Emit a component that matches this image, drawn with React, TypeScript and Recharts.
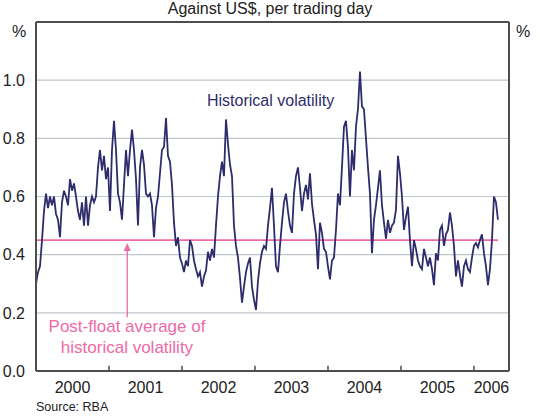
import {
  LineChart,
  Line,
  XAxis,
  YAxis,
  CartesianGrid,
  ReferenceLine,
  ReferenceDot,
} from "recharts";

// historical volatility, one reading about every 10 days from Jan 2000
const volatility = [
  0.30, 0.34, 0.36, 0.45, 0.55, 0.61, 0.56, 0.60, 0.57, 0.60,
  0.54, 0.52, 0.46, 0.58, 0.62, 0.60, 0.57, 0.66, 0.62, 0.645,
  0.60, 0.55, 0.52, 0.58, 0.50, 0.60, 0.50, 0.57, 0.60, 0.58,
  0.60, 0.70, 0.76, 0.69, 0.74, 0.66, 0.70, 0.55, 0.76, 0.86,
  0.76, 0.61, 0.58, 0.52, 0.64, 0.76, 0.67, 0.76, 0.83, 0.76,
  0.66, 0.50, 0.70, 0.76, 0.71, 0.61, 0.60, 0.61, 0.57, 0.46,
  0.56, 0.60, 0.68, 0.76, 0.77, 0.87, 0.74, 0.72, 0.64, 0.51,
  0.43, 0.46, 0.39, 0.37, 0.34, 0.38, 0.36, 0.45, 0.43, 0.38,
  0.35, 0.325, 0.34, 0.29, 0.325, 0.345, 0.41, 0.38, 0.42, 0.39,
  0.50, 0.60, 0.67, 0.72, 0.67, 0.865, 0.78, 0.71, 0.67, 0.50,
  0.43, 0.39, 0.32, 0.235, 0.29, 0.34, 0.37, 0.39, 0.29, 0.245,
  0.21, 0.31, 0.37, 0.41, 0.43, 0.42, 0.50, 0.56, 0.63, 0.50,
  0.36, 0.34, 0.43, 0.51, 0.58, 0.61, 0.55, 0.50, 0.475, 0.61,
  0.67, 0.70, 0.63, 0.55, 0.61, 0.64, 0.59, 0.68, 0.575, 0.52,
  0.47, 0.35, 0.51, 0.475, 0.42, 0.41, 0.36, 0.315, 0.38, 0.39,
  0.485, 0.61, 0.57, 0.70, 0.84, 0.86, 0.77, 0.60, 0.76, 0.69,
  0.84, 0.90, 1.03, 0.91, 0.90, 0.80, 0.70, 0.61, 0.405, 0.52,
  0.57, 0.63, 0.69, 0.57, 0.51, 0.455, 0.52, 0.475, 0.50, 0.51,
  0.555, 0.74, 0.68, 0.60, 0.485, 0.53, 0.565, 0.45, 0.36, 0.45,
  0.42, 0.38, 0.36, 0.35, 0.42, 0.39, 0.36, 0.39, 0.35, 0.295,
  0.405, 0.38, 0.485, 0.50, 0.43, 0.47, 0.485, 0.545, 0.50, 0.43,
  0.325, 0.38, 0.33, 0.29, 0.36, 0.38, 0.35, 0.34, 0.39, 0.43,
  0.44, 0.425, 0.45, 0.47, 0.405, 0.36, 0.295, 0.35, 0.45, 0.60,
  0.58, 0.52,
];

const START_YEAR = 2000;
const STEP_YEARS = 10 / 365;
const END_YEAR = 2006.48;
const POST_FLOAT_AVG = 0.45;

const yearTicks = [2001, 2002, 2003, 2004, 2005, 2006];
const yearLabels = [2000, 2001, 2002, 2003, 2004, 2005, 2006];
const yTicks = [0, 0.2, 0.4, 0.6, 0.8, 1.0];

const data = volatility.map((v, i) => ({ t: START_YEAR + i * STEP_YEARS, v }));
const lastT = data[data.length - 1].t;

// label sits in the middle of each year (last one only partly shown)
const labelPos = yearLabels.map((y) => (y + Math.min(y + 1, END_YEAR)) / 2);

const FONT = "'Liberation Sans', Arial, Helvetica, sans-serif";
const NAVY = "#2e2c6b";
const PINK = "#ee6aa7";
const AXIS = "#4d4d4d";

const Arrowhead = ({ cx, cy }: any) => (
  <path d={`M${cx},${cy - 3} L${cx - 3.5},${cy + 5} L${cx + 3.5},${cy + 5} Z`} fill={PINK} />
);

export default function App() {
  const tickStyle = { fontSize: 16, fill: "#222", fontFamily: FONT };
  return (
    <div style={{ position: "absolute", left: 0, top: 0, width: 540, height: 417, background: "#fff", fontFamily: FONT }}>
      <div style={{ position: "absolute", top: 0, width: 540, textAlign: "center", fontSize: 16, color: "#222" }}>
        Against US$, per trading day
      </div>
      <div style={{ position: "absolute", left: 12, top: 23, fontSize: 16, color: "#222" }}>%</div>
      <div style={{ position: "absolute", left: 516, top: 23, fontSize: 16, color: "#222" }}>%</div>
      <LineChart width={540} height={417} data={data} margin={{ top: 22, right: 0, bottom: 16, left: 0 }}>
        <CartesianGrid vertical={false} stroke="#c0c6cd" strokeWidth={1.2} />
        <XAxis
          dataKey="t"
          type="number"
          domain={[START_YEAR, END_YEAR]}
          ticks={labelPos}
          tickFormatter={(v: number) => String(Math.floor(v))}
          interval={0}
          allowDataOverflow
          height={30}
          tickLine={false}
          tickMargin={5}
          axisLine={{ stroke: AXIS, strokeWidth: 2 }}
          tick={tickStyle}
        />
        <YAxis
          domain={[0, 1.2]}
          ticks={yTicks}
          width={36}
          interval={0}
          tickFormatter={(v: number) => v.toFixed(1)}
          tickLine={false}
          tickMargin={5}
          axisLine={{ stroke: AXIS, strokeWidth: 2 }}
          tick={tickStyle}
        />
        <YAxis
          yAxisId="right"
          orientation="right"
          domain={[0, 1.2]}
          ticks={yTicks}
          width={31}
          interval={0}
          tickFormatter={(v: number) => v.toFixed(1)}
          tickLine={false}
          tickMargin={6}
          axisLine={{ stroke: AXIS, strokeWidth: 2 }}
          tick={tickStyle}
        />
        <ReferenceLine y={1.2} stroke={AXIS} strokeWidth={2} ifOverflow="visible" />
        {yearTicks.map((y) => (
          <ReferenceLine
            key={y}
            segment={[{ x: y, y: 0 }, { x: y, y: 0.018 }]}
            stroke={AXIS}
            strokeWidth={1.5}
          />
        ))}
        <ReferenceLine
          segment={[{ x: START_YEAR, y: POST_FLOAT_AVG }, { x: lastT, y: POST_FLOAT_AVG }]}
          stroke={PINK}
          strokeWidth={1.6}
        />
        <ReferenceLine
          segment={[{ x: 2001.25, y: 0.185 }, { x: 2001.25, y: 0.43 }]}
          stroke={PINK}
          strokeWidth={1.3}
        />
        <ReferenceDot x={2001.25} y={0.43} r={4} shape={Arrowhead} />
        <Line
          type="linear"
          dataKey="v"
          stroke={NAVY}
          strokeWidth={1.8}
          dot={false}
          activeDot={false}
          isAnimationActive={false}
        />
      </LineChart>
      <div style={{ position: "absolute", left: 207, top: 92, fontSize: 16, color: NAVY }}>Historical volatility</div>
      <div
        style={{
          position: "absolute",
          left: 27,
          width: 200,
          top: 316,
          fontSize: 17,
          lineHeight: "21px",
          color: PINK,
          textAlign: "center",
        }}
      >
        Post-float average of
        <br />
        historical volatility
      </div>
      <div style={{ position: "absolute", left: 36, top: 400, fontSize: 12.5, color: "#222" }}>Source: RBA</div>
    </div>
  );
}
